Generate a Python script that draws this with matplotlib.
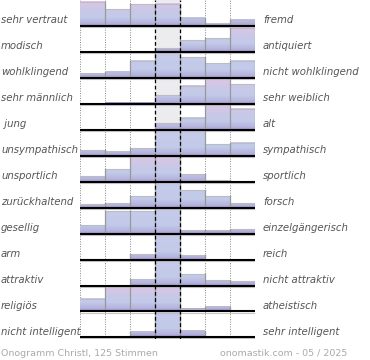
import numpy as np
import matplotlib
matplotlib.use("Agg")
import matplotlib.pyplot as plt
from matplotlib.colors import LinearSegmentedColormap

# Daten: linke / rechte Begriffe und Anteile je Spalte (relativ zum Maximum der Zeile)
left_labels = ["sehr vertraut", "modisch", "wohlklingend", "sehr männlich", " jung",
               "unsympathisch", "unsportlich", "zurückhaltend", "gesellig", "arm",
               "attraktiv", "religiös", "nicht intelligent"]
right_labels = ["fremd", "antiquiert", "nicht wohlklingend", "sehr weiblich", "alt",
                "sympathisch", "sportlich", "forsch", "einzelgängerisch", "reich",
                "nicht attraktiv", "atheistisch", "sehr intelligent"]
values = [
    [1.00, 0.68, 0.89, 0.92, 0.33, 0.11, 0.26],
    [0.00, 0.00, 0.00, 0.15, 0.48, 0.55, 1.00],
    [0.17, 0.26, 0.71, 1.00, 0.86, 0.61, 0.71],
    [0.00, 0.05, 0.05, 0.35, 0.74, 1.00, 0.80],
    [0.00, 0.00, 0.00, 0.27, 0.50, 1.00, 0.87],
    [0.24, 0.18, 0.30, 1.00, 1.00, 0.49, 0.54],
    [0.24, 0.50, 1.00, 1.00, 0.31, 0.06, 0.00],
    [0.16, 0.20, 0.46, 1.00, 0.72, 0.48, 0.20],
    [0.35, 0.91, 0.93, 1.00, 0.16, 0.13, 0.17],
    [0.03, 0.03, 0.22, 1.00, 0.17, 0.00, 0.00],
    [0.00, 0.00, 0.27, 1.00, 0.46, 0.24, 0.17],
    [0.50, 1.00, 1.00, 1.00, 0.10, 0.17, 0.02],
    [0.00, 0.00, 0.21, 1.00, 0.25, 0.02, 0.00],
]
footer_left = "Onogramm Christl, 125 Stimmen"
footer_right = "onomastik.com - 05 / 2025"

n_rows = len(values)
n_cols = 7
bar_max = 0.94

cmap_pink = LinearSegmentedColormap.from_list(
    "pink", [(0, "#9c8dc8"), (0.1, "#b4b2dd"), (0.35, "#c3cae9"), (0.65, "#c9c8e8"), (1, "#ddc5e4")])
cmap_blue = LinearSegmentedColormap.from_list(
    "blue", [(0, "#9c8dc8"), (0.1, "#b4b2dd"), (0.35, "#c2cae9"), (1, "#c6cbe9")])

fig = plt.figure(figsize=(3.7, 3.6), dpi=100)
ax = fig.add_axes([80 / 370, 1 - 339 / 360, 175 / 370, 339 / 360])
ax.set_xlim(0, n_cols)
ax.set_ylim(-0.06, n_rows)
ax.axis("off")

# graue Mittelspalte
ax.axvspan(3, 4, color="#ececef", zorder=0)

for i, row in enumerate(values):
    base = n_rows - 1 - i
    cmap = cmap_blue if int(np.argmax(row)) == 3 else cmap_pink
    for c, v in enumerate(row):
        if v <= 0:
            continue
        h = v * bar_max
        t = np.linspace(0, v, 60).reshape(-1, 1)
        ax.imshow(cmap(t), extent=(c, c + 1, base, base + h), origin="lower",
                  aspect="auto", interpolation="bilinear", zorder=2)
        ax.plot([c, c + 1], [base + h, base + h], color="#bcbcc4", lw=0.8, zorder=3)
    # Trennlinien zwischen den Balken
    for k in range(1, n_cols + 1):
        hl = row[k - 1]
        hr = row[k] if k < n_cols else 0
        hh = max(hl, hr) * bar_max
        if hh > 0:
            ax.plot([k, k], [base, base + hh], color="#999999", lw=0.9, zorder=3)
    ax.plot([0, n_cols], [base - 0.04, base - 0.04], color="#c8c8c8", lw=0.8, zorder=3)
    ax.plot([0, n_cols], [base, base], color="black", lw=1.5, zorder=4)

# Gitterlinien
for k in range(n_cols + 1):
    if k in (3, 4):
        ax.axvline(k, color="black", lw=0.9, ls=(0, (3, 2)), zorder=5)
    else:
        ax.axvline(k, color="#888888", lw=0.7, ls=(0, (1, 1.5)), zorder=1)

for i in range(n_rows):
    y = 1 - (25.5 + 26 * i - 5.5) / 360
    fig.text(1 / 370, y, left_labels[i], ha="left", va="center", fontsize=7.3,
             style="italic", color="#555555")
    fig.text(263 / 370, y, right_labels[i], ha="left", va="center", fontsize=7.3,
             style="italic", color="#555555")

fig.text(1 / 370, 1 - 353 / 360, footer_left, ha="left", va="center", fontsize=6.8, color="#aaaaaa")
fig.text(347 / 370, 1 - 353 / 360, footer_right, ha="right", va="center", fontsize=6.8, color="#aaaaaa")

fig.savefig("out.png", dpi=100)
